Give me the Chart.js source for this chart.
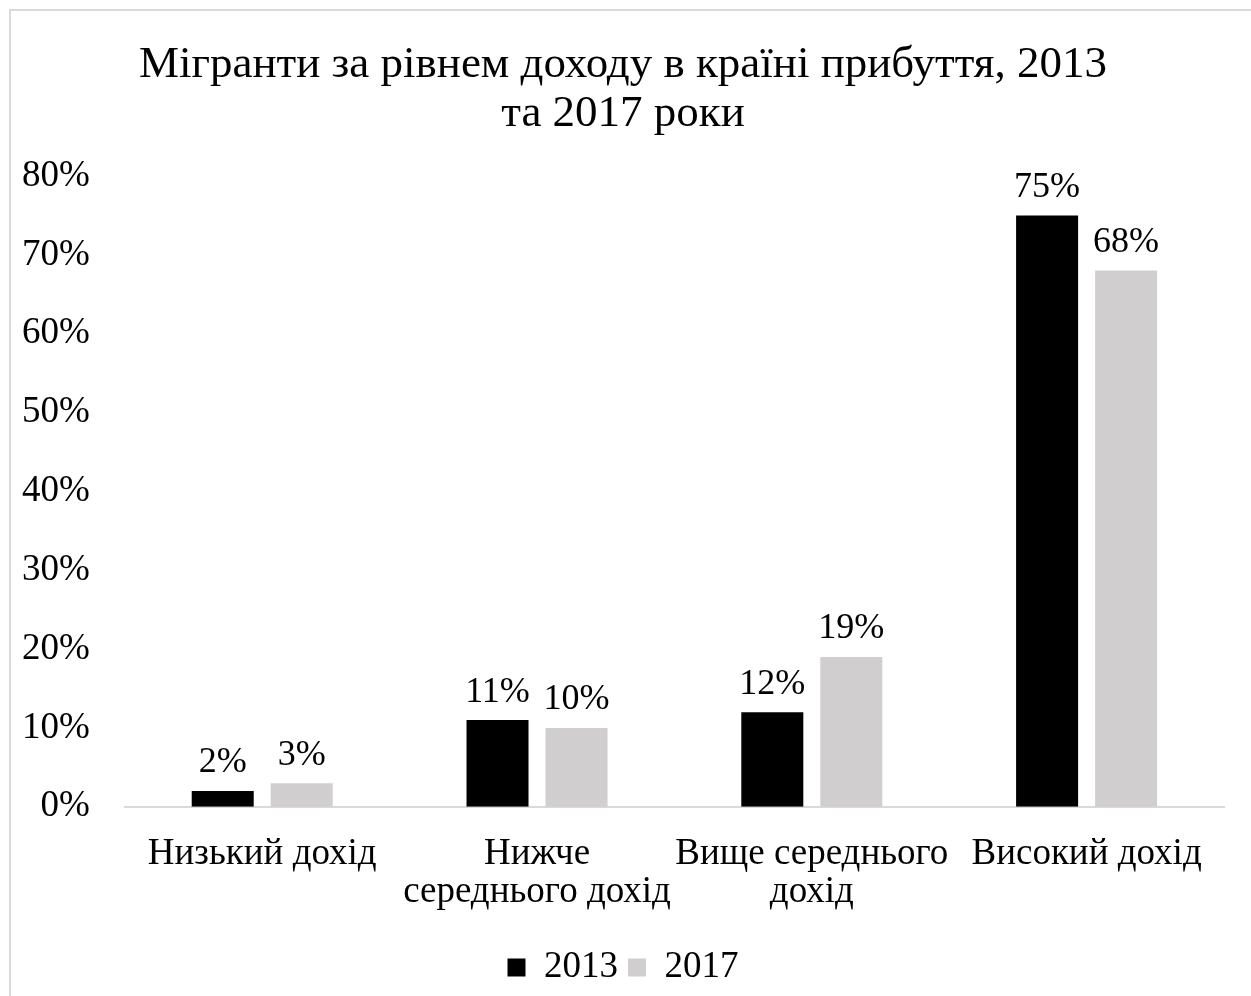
<!DOCTYPE html>
<html>
<head>
<meta charset="utf-8">
<script src="https://cdn.jsdelivr.net/npm/chart.js@4"></script>
<style>
  body { margin: 0; background: #fff; }
  #wrap { position: absolute; left: 9px; top: 9px; width: 1242px; height: 987px;
          border-top: 2px solid #d9d9d9; border-left: 2px solid #d9d9d9; box-sizing: border-box; }
  canvas { display: block; }
</style>
</head>
<body>
<div id="wrap"><canvas id="chartCanvas"></canvas></div>
<script>
const categories = ['Низький дохід', ['Нижче', 'середнього дохід'], ['Вище середнього', 'дохід'], 'Високий дохід'];
const values2013 = [2, 11, 12, 75];
const values2017 = [3, 10, 19, 68];
const yTicks = [0, 10, 20, 30, 40, 50, 60, 70, 80];

const serif = '"Liberation Serif", "Times New Roman", serif';
const yPad = 35;

// draws the value above every bar
const barLabels = {
  id: 'barLabels',
  afterDatasetsDraw(chart) {
    const ctx = chart.ctx;
    ctx.save();
    ctx.font = '36px ' + serif;
    ctx.fillStyle = '#000';
    ctx.textAlign = 'center';
    ctx.textBaseline = 'bottom';
    chart.data.datasets.forEach((ds, i) => {
      chart.getDatasetMeta(i).data.forEach((bar, j) => {
        ctx.fillText(ds.data[j] + '%', bar.x, bar.y - 10);
      });
    });
    ctx.restore();
  }
};

const ctx = document.getElementById('chartCanvas').getContext('2d');
new Chart(ctx, {
  type: 'bar',
  data: {
    labels: categories,
    datasets: [
      { label: '2013', data: values2013, backgroundColor: '#000000', categoryPercentage: 0.575, barPercentage: 0.785 },
      { label: '2017', data: values2017, backgroundColor: '#d0cece', categoryPercentage: 0.575, barPercentage: 0.785 }
    ]
  },
  options: {
    responsive: true,
    maintainAspectRatio: false,
    animation: false,
    layout: { padding: { left: 11, right: 27, top: 0, bottom: 0 } },
    plugins: {
      title: {
        display: true,
        text: ['Мігранти за рівнем доходу в країні прибуття, 2013', 'та 2017 роки'],
        color: '#000',
        font: { family: serif, size: 45, weight: 'normal', lineHeight: 1.1 },
        padding: { top: 29, bottom: 37 }
      },
      legend: {
        position: 'bottom',
        labels: {
          color: '#000',
          font: { family: serif, size: 37 },
          boxWidth: 18,
          boxHeight: 18,
          padding: 10
        }
      },
      tooltip: { enabled: false }
    },
    scales: {
      x: {
        grid: { display: false, drawTicks: false },
        border: { display: true, color: '#d9d9d9', width: 2 },
        ticks: { color: '#000', font: { family: serif, size: 37, lineHeight: 1.03 }, maxRotation: 0, autoSkip: false, padding: 28 }
      },
      y: {
        min: 0,
        max: 80,
        afterBuildTicks: axis => { axis.ticks = yTicks.map(v => ({ value: v })); },
        // chart.js counts the tick padding twice in the axis width
        afterFit: axis => { axis.width -= yPad; },
        grid: { display: false, drawTicks: false },
        border: { display: false },
        ticks: { color: '#000', font: { family: serif, size: 37 }, padding: yPad, callback: v => v + '%' }
      }
    }
  },
  plugins: [barLabels]
});
</script>
</body>
</html>
